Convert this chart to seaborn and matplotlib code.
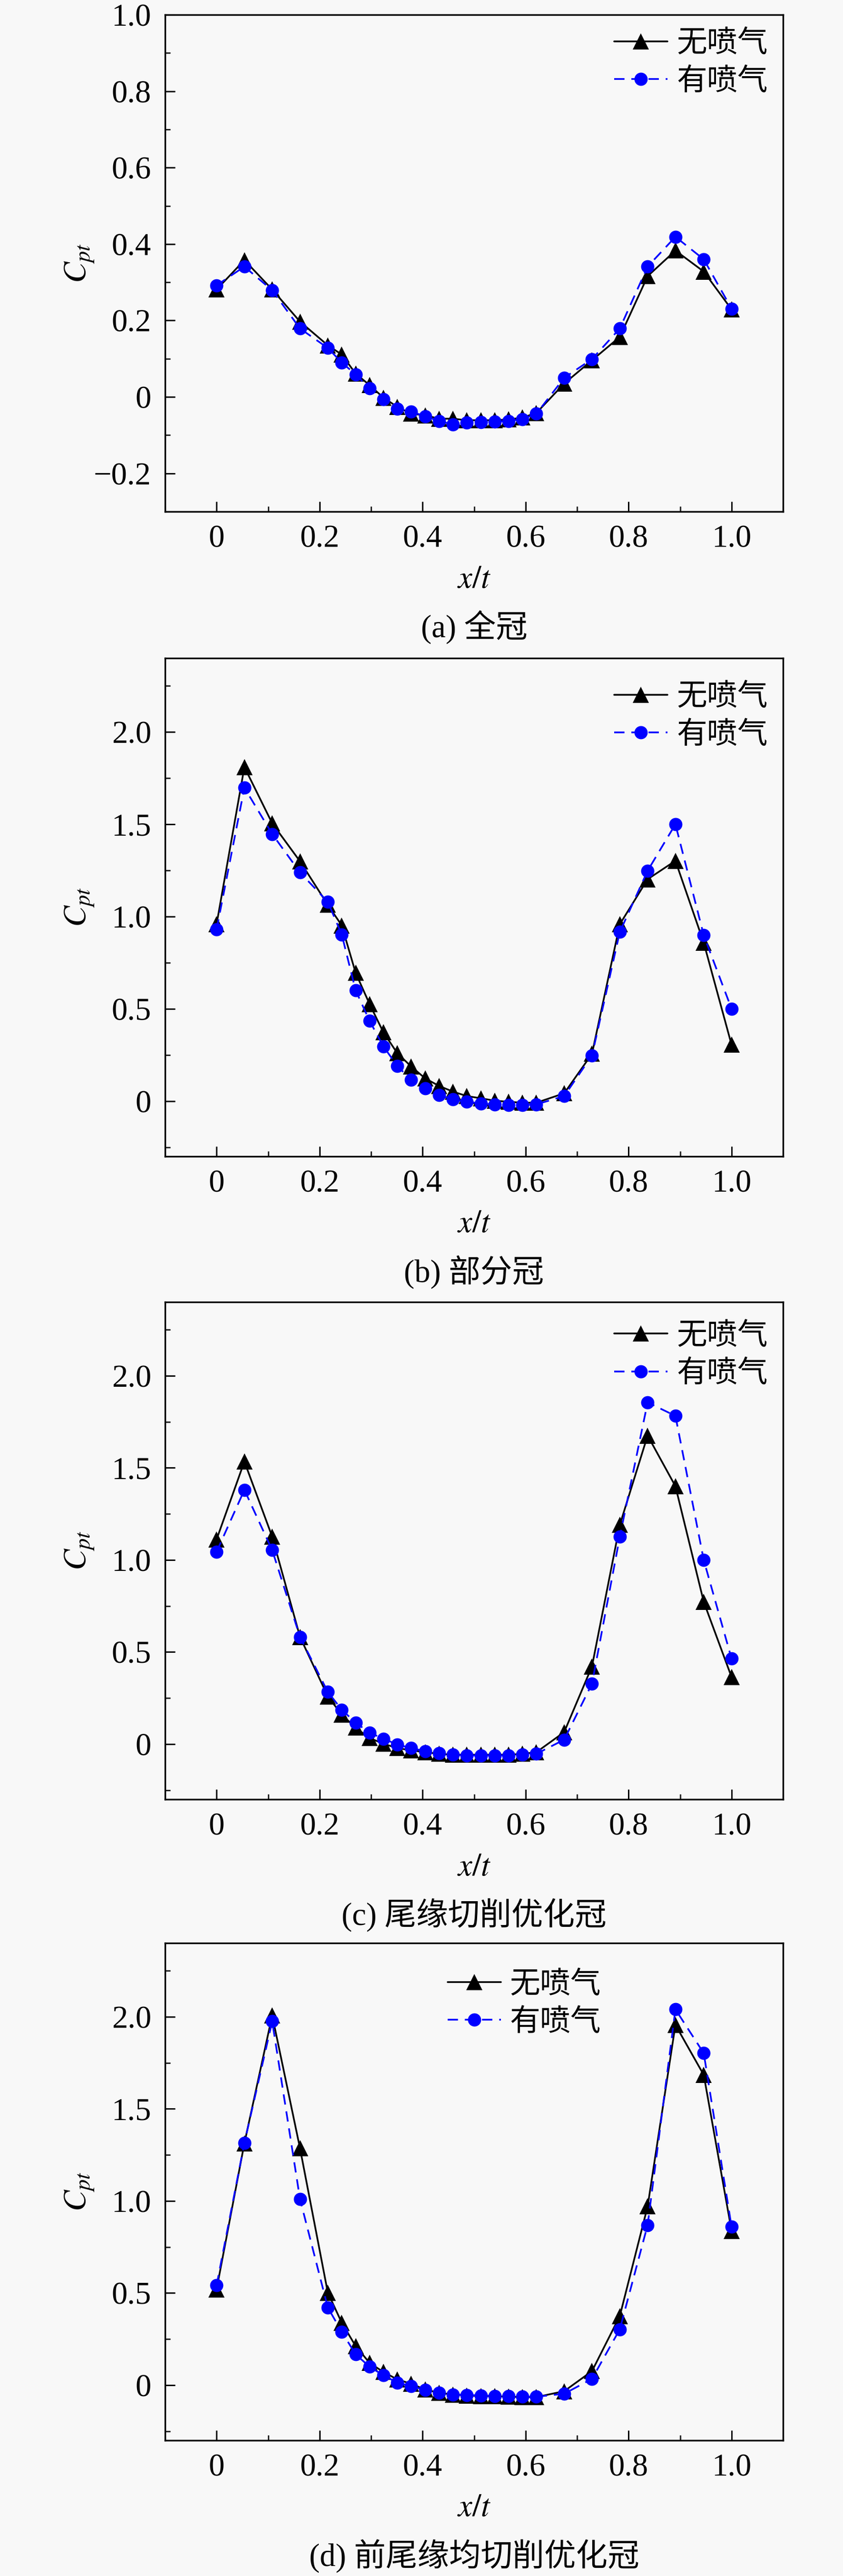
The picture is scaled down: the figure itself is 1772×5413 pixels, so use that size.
import numpy as np
import pandas as pd
import matplotlib
matplotlib.use("Agg")
import matplotlib.pyplot as plt
from matplotlib.ticker import MultipleLocator
import seaborn as sns

# x/t stations (same for every panel)
x_pos = [0, 0.054, 0.108, 0.162, 0.216, 0.243, 0.270, 0.297, 0.324, 0.351,
         0.378, 0.405, 0.432, 0.459, 0.486, 0.513, 0.540, 0.567, 0.594, 0.621,
         0.675, 0.729, 0.783, 0.837, 0.891, 0.946, 1.0]

# (a) 全冠
a_no = [0.281, 0.358, 0.281, 0.197, 0.135, 0.111, 0.061, 0.031, -0.002, -0.026,
        -0.044, -0.048, -0.057, -0.057, -0.061, -0.061, -0.061, -0.059, -0.054, -0.042,
        0.035, 0.096, 0.157, 0.316, 0.383, 0.328, 0.229]
a_jet = [0.292, 0.341, 0.279, 0.179, 0.128, 0.090, 0.059, 0.022, -0.006, -0.031,
         -0.038, -0.051, -0.063, -0.072, -0.067, -0.066, -0.065, -0.063, -0.058, -0.044,
         0.050, 0.099, 0.179, 0.341, 0.419, 0.360, 0.231]

# (b) 部分冠
b_no = [0.958, 1.810, 1.505, 1.299, 1.063, 0.952, 0.695, 0.526, 0.372, 0.259,
        0.187, 0.123, 0.082, 0.051, 0.027, 0.015, 0.002, -0.004, -0.009, -0.009,
        0.042, 0.256, 0.958, 1.202, 1.302, 0.858, 0.305]
b_jet = [0.930, 1.698, 1.447, 1.239, 1.079, 0.903, 0.600, 0.435, 0.296, 0.190,
         0.114, 0.069, 0.033, 0.009, -0.004, -0.013, -0.018, -0.022, -0.022, -0.018,
         0.027, 0.247, 0.916, 1.248, 1.500, 0.898, 0.500]

# (c) 尾缘切削优化冠
c_no = [1.111, 1.534, 1.126, 0.582, 0.259, 0.160, 0.089, 0.033, 0.002, -0.022,
        -0.034, -0.044, -0.053, -0.058, -0.058, -0.058, -0.058, -0.058, -0.053, -0.044,
        0.065, 0.422, 1.190, 1.675, 1.400, 0.772, 0.364]
c_jet = [1.044, 1.380, 1.053, 0.582, 0.283, 0.187, 0.116, 0.062, 0.029, -0.002,
         -0.022, -0.038, -0.049, -0.058, -0.062, -0.062, -0.062, -0.062, -0.058, -0.053,
         0.024, 0.328, 1.126, 1.855, 1.782, 0.999, 0.464]

# (d) 前尾缘均切削优化冠
d_no = [0.520, 1.313, 2.007, 1.286, 0.502, 0.339, 0.212, 0.121, 0.071, 0.031,
        0.007, -0.024, -0.042, -0.051, -0.056, -0.060, -0.060, -0.063, -0.065, -0.065,
        -0.033, 0.076, 0.375, 0.970, 1.956, 1.684, 0.838]
d_jet = [0.542, 1.315, 1.975, 1.010, 0.421, 0.290, 0.167, 0.100, 0.053, 0.013,
         -0.005, -0.027, -0.042, -0.051, -0.054, -0.056, -0.060, -0.060, -0.063, -0.063,
         -0.047, 0.034, 0.303, 0.869, 2.040, 1.802, 0.860]

captions = ["(a) 全冠", "(b) 部分冠", "(c) 尾缘切削优化冠", "(d) 前尾缘均切削优化冠"]
series_names = ["无喷气", "有喷气"]

x_ticks = [0, 0.2, 0.4, 0.6, 0.8, 1.0]
x_ticklabels = ["0", "0.2", "0.4", "0.6", "0.8", "1.0"]
y_ticks_a = [-0.2, 0, 0.2, 0.4, 0.6, 0.8, 1.0]
y_ticklabels_a = ["\u22120.2", "0", "0.2", "0.4", "0.6", "0.8", "1.0"]
y_ticks_b = [0, 0.5, 1.0, 1.5, 2.0]
y_ticklabels_b = ["0", "0.5", "1.0", "1.5", "2.0"]

panels = [(a_no, a_jet), (b_no, b_jet), (c_no, c_jet), (d_no, d_jet)]

sns.set_theme(style="ticks")
bg = "#f8f8f8"
plt.rcParams["font.family"] = ["Liberation Serif", "Noto Sans CJK SC"]
plt.rcParams["mathtext.fontset"] = "stix"
plt.rcParams["axes.unicode_minus"] = True

W, H = 1772, 5413
fig = plt.figure(figsize=(W / 100, H / 100), dpi=100, facecolor=bg)

# axes boxes in pixels (top, bottom)
boxes = [(31, 1075), (1383, 2430), (2736, 3781), (4083, 5128)]
left_px, right_px = 347, 1646
# legend anchor (x right edge, y top) in axes fraction
leg_anchor = [(1.0, 1.005), (1.0, 0.985), (1.0, 0.995), (0.73, 0.98)]

for i, ((no, jet), (top, bot)) in enumerate(zip(panels, boxes)):
    ax = fig.add_axes([left_px / W, 1 - bot / H, (right_px - left_px) / W, (bot - top) / H])
    ax.set_facecolor(bg)

    df = pd.DataFrame({"x": x_pos, "no": no, "jet": jet})
    sns.lineplot(data=df, x="x", y="no", ax=ax, color="black", marker="^",
                 markersize=24, markeredgewidth=0, linewidth=2.6,
                 label=series_names[0])
    sns.lineplot(data=df, x="x", y="jet", ax=ax, color="blue", marker="o",
                 markersize=20, markeredgewidth=0, linewidth=2.6,
                 linestyle=(0, (6, 4)), label=series_names[1])

    ax.set_xlim(-0.1, 1.1)
    ax.set_xticks(x_ticks)
    ax.set_xticklabels(x_ticklabels)
    ax.xaxis.set_minor_locator(MultipleLocator(0.1))
    if i == 0:
        ax.set_ylim(-0.3, 1.0)
        ax.set_yticks(y_ticks_a)
        ax.set_yticklabels(y_ticklabels_a)
        ax.yaxis.set_minor_locator(MultipleLocator(0.1))
    else:
        ax.set_ylim(-0.3, 2.4)
        ax.set_yticks(y_ticks_b)
        ax.set_yticklabels(y_ticklabels_b)
        ax.yaxis.set_minor_locator(MultipleLocator(0.25))

    ax.tick_params(which="major", direction="in", length=15, width=2.2, labelsize=48,
                   top=False, right=False, colors="black")
    ax.tick_params(which="minor", direction="in", length=8, width=2.2,
                   top=False, right=False)
    ax.tick_params(axis="x", which="major", pad=20)
    ax.tick_params(axis="y", which="major", pad=21)
    for s in ax.spines.values():
        s.set_linewidth(2.5)
        s.set_color("black")

    ax.set_xlabel("$x/t$", fontsize=48, va="center", color="black")
    ax.xaxis.set_label_coords(0.5, -143 / (bot - top))
    ax.set_ylabel("$C_{pt}$", fontsize=48, va="center", color="black")
    ax.yaxis.set_label_coords(-179 / (right_px - left_px), 0.5)

    ax.text(0.5, -243 / (bot - top), captions[i], transform=ax.transAxes,
            ha="center", va="center", fontsize=48, color="black",
            family=["Liberation Serif", "Noto Sans CJK SC"])

    leg = ax.legend(loc="upper right", bbox_to_anchor=leg_anchor[i], frameon=False,
                    fontsize=46, handlelength=1.75, handletextpad=0.3,
                    labelspacing=0.2, borderaxespad=0.3, borderpad=0.2)
    for t in leg.get_texts():
        t.set_family(["Noto Sans CJK SC", "Liberation Serif"])
        t.set_color("black")

fig.savefig("out.png", dpi=100, facecolor=bg)
